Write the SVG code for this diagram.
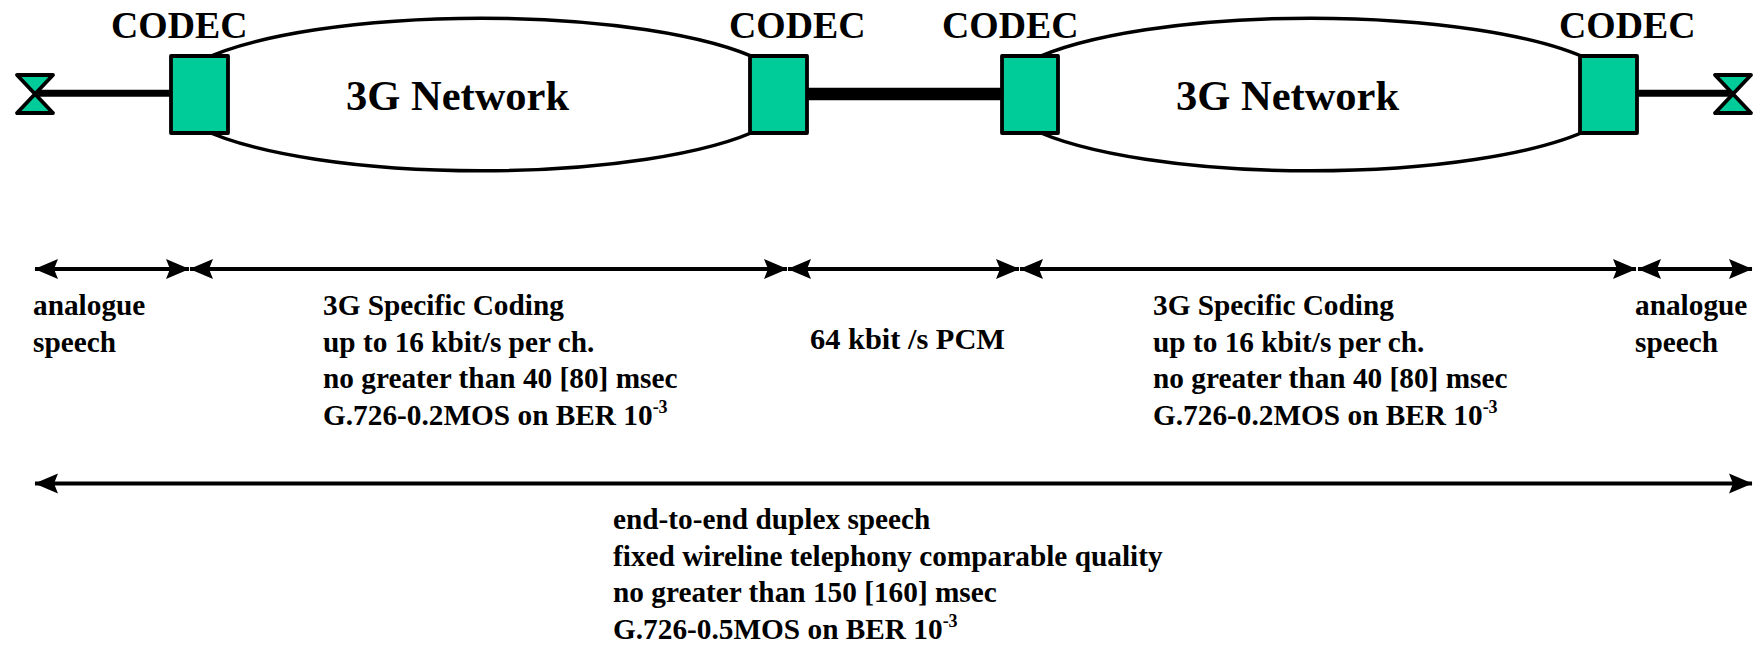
<svg xmlns="http://www.w3.org/2000/svg" width="1757" height="646" viewBox="0 0 1757 646">
<style>
text{font-family:"Liberation Serif","Times New Roman",serif;font-weight:bold;fill:#000}
.c{font-size:37.8px}
.n{font-size:42.5px}
.t{font-size:29.3px}
.p{font-size:30.4px}
.s{font-size:18px}
.box{fill:#00cc99;stroke:#000;stroke-width:3.8;stroke-linejoin:round}
.cloud{fill:#fff;stroke:#000;stroke-width:3.5}
.dim{stroke:#000;stroke-width:4;fill:none;marker-start:url(#a);marker-end:url(#a)}
</style>
<defs>
<marker id="a" markerUnits="userSpaceOnUse" markerWidth="26" markerHeight="24" refX="23" refY="12" orient="auto-start-reverse" viewBox="0 0 26 24"><path d="M23.500 12 L0 2 L4 12 L0 22Z" fill="#000"/></marker>
</defs>
<rect width="1757" height="646" fill="#fff"/>
<g id="network-1"><path class="cloud" d="M200 61A313 76.500 0 0 1 762 61V128A313 76.500 0 0 1 200 128Z"/><text class="n" x="346" y="110">3G Network</text></g>
<g id="network-2"><path class="cloud" d="M1030 61A313 76.500 0 0 1 1592 61V128A313 76.500 0 0 1 1030 128Z"/><text class="n" x="1176" y="110">3G Network</text></g>
<g id="connectors">
<path d="M35 93.300H171" stroke="#000" stroke-width="7"/>
<path d="M807 94H1002" stroke="#000" stroke-width="12.500"/>
<path d="M1637 93.300H1733" stroke="#000" stroke-width="7"/>
<path class="dim" d="M35 269H189"/>
<path class="dim" d="M190 269H787"/>
<path class="dim" d="M788 269H1019"/>
<path class="dim" d="M1020 269H1636"/>
<path class="dim" d="M1638 269H1752"/>
<path class="dim" d="M35 483.500H1752"/>
</g>
<g id="phone-left"><path class="box" d="M17 75H53L17 113H53Z"/></g>
<g id="phone-right"><path class="box" d="M1715 75H1751L1715 113H1751Z"/></g>
<g id="codec-1"><rect class="box" x="171" y="56" width="57" height="77"/><text class="c" x="111" y="38">CODEC</text></g>
<g id="codec-2"><rect class="box" x="750" y="56" width="57" height="77"/><text class="c" x="729" y="38">CODEC</text></g>
<g id="codec-3"><rect class="box" x="1002" y="56" width="56" height="77"/><text class="c" x="942" y="38">CODEC</text></g>
<g id="codec-4"><rect class="box" x="1580" y="56" width="57" height="77"/><text class="c" x="1559" y="38">CODEC</text></g>
<g id="label-analogue-left"><text class="t" x="33" y="315">analogue</text><text class="t" x="33" y="352">speech</text></g>
<g id="label-coding-1"><text class="t" x="323" y="315">3G Specific Coding</text><text class="t" x="323" y="352">up to 16 kbit/s per ch.</text><text class="t" x="323" y="388">no greater than 40 [80] msec</text><text class="t" x="323" y="425">G.726-0.2MOS on BER 10<tspan class="s" dy="-12">-3</tspan></text></g>
<g id="label-pcm"><text class="p" x="810" y="349">64 kbit /s PCM</text></g>
<g id="label-coding-2"><text class="t" x="1153" y="315">3G Specific Coding</text><text class="t" x="1153" y="352">up to 16 kbit/s per ch.</text><text class="t" x="1153" y="388">no greater than 40 [80] msec</text><text class="t" x="1153" y="425">G.726-0.2MOS on BER 10<tspan class="s" dy="-12">-3</tspan></text></g>
<g id="label-analogue-right"><text class="t" x="1635" y="315">analogue</text><text class="t" x="1635" y="352">speech</text></g>
<g id="label-end-to-end"><text class="t" x="613" y="529">end-to-end duplex speech</text><text class="t" x="613" y="566">fixed wireline telephony comparable quality</text><text class="t" x="613" y="602">no greater than 150 [160] msec</text><text class="t" x="613" y="639">G.726-0.5MOS on BER 10<tspan class="s" dy="-12">-3</tspan></text></g>
</svg>
